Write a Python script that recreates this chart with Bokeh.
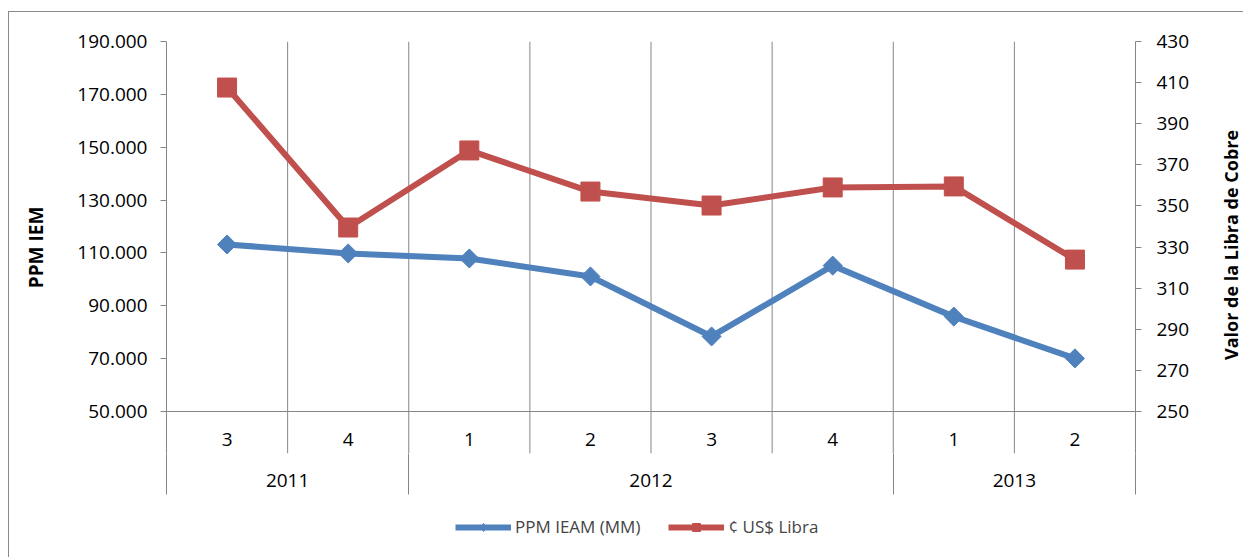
import math
from bokeh.plotting import figure
from bokeh.layouts import column, row
from bokeh.models import (Range1d, LinearAxis, FixedTicker, CustomJSTickFormatter,
                          ColumnDataSource, Legend, LegendItem)
from bokeh.core.properties import value
from bokeh.embed import file_html
from bokeh.resources import INLINE

# ---------------- data ----------------
years = ["2011", "2011", "2012", "2012", "2012", "2012", "2013", "2013"]
quarters = ["3", "4", "1", "2", "3", "4", "1", "2"]
ppm_iem = [113200, 109800, 107900, 101100, 78400, 105200, 85900, 70100]
libra_cobre = [407.6, 339.5, 377.0, 357.0, 350.2, 359.0, 359.5, 323.9]
left_ticks = [50000, 70000, 90000, 110000, 130000, 150000, 170000, 190000]
right_ticks = [250, 270, 290, 310, 330, 350, 370, 390, 410, 430]
series_names = ["PPM IEAM (MM)", "¢ US$ Libra"]
left_title = "PPM IEM"
right_title = "Valor de la Libra de Cobre"

# ---------------- layout constants ----------------
FONT = "Open Sans"
FS = "19px"
GRAY = "#868686"
BLUE = "#4F81BD"
RED = "#C0504D"
TOTAL_W = 1234
STRIP_W = 33                       # strip holding the right-hand title
W, H = TOTAL_W - STRIP_W, 488      # main chart
LEG_H = 57                         # legend strip below
MB_L, MB_R, MB_T, MB_B = 157, 75, 29, 47
AXIS_PX = 370.0                    # pixel height of the value axes
FRAME_H = H - MB_T - MB_B

y_lo, y_hi = left_ticks[0], left_ticks[-1]
r_lo, r_hi = right_ticks[0], right_ticks[-1]
upx = (y_hi - y_lo) / AXIS_PX
rpx = (r_hi - r_lo) / AXIS_PX
y_start = y_hi - FRAME_H * upx
r_start = r_hi - FRAME_H * rpx

n = len(quarters)
centers = [i + 0.5 for i in range(n)]

p = figure(width=W, height=H, output_backend="svg", toolbar_location=None,
           x_range=Range1d(0, n), y_range=Range1d(y_start, y_hi),
           min_border_left=MB_L, min_border_right=MB_R,
           min_border_top=MB_T, min_border_bottom=MB_B,
           background_fill_color="white", border_fill_color="white")
p.outline_line_color = None
p.xaxis.visible = False
p.yaxis.visible = False
p.xgrid.visible = False
p.ygrid.visible = False
p.extra_y_ranges = {"right": Range1d(r_start, r_hi)}

fmt = CustomJSTickFormatter(code=r"""
return Math.round(tick).toString().replace(/\B(?=(\d{3})+(?!\d))/g, '.');
""")

def style_axis(ax):
    ax.axis_line_color = GRAY
    ax.major_tick_line_color = GRAY
    ax.major_tick_out = 6
    ax.major_tick_in = 0
    ax.minor_tick_line_color = None
    ax.major_label_text_font = FONT
    ax.major_label_text_font_size = FS
    ax.major_label_text_color = "#000000"

lax = LinearAxis(bounds=(y_start, y_hi), ticker=FixedTicker(ticks=left_ticks), formatter=fmt,
                 axis_label=left_title)
style_axis(lax)
lax.major_label_standoff = 13
lax.axis_label_standoff = 25
lax.axis_label_text_font = FONT
lax.axis_label_text_font_size = "19px"
lax.axis_label_text_font_style = "bold"
lax.axis_label_text_color = "#000000"
p.add_layout(lax, "left")

rax = LinearAxis(y_range_name="right", bounds=(r_start, r_hi), ticker=FixedTicker(ticks=right_ticks))
style_axis(rax)
rax.major_label_standoff = 15
p.add_layout(rax, "right")

# ---------------- grid / category separators ----------------
groups = []
for i, yv in enumerate(years):
    if not groups or groups[-1][0] != yv:
        groups.append([yv, i, i + 1])
    else:
        groups[-1][2] = i + 1
year_centers = [(g[1] + g[2]) / 2 for g in groups]
year_bounds = sorted({g[1] for g in groups} | {g[2] for g in groups})

inner = list(range(1, n))
p.segment(x0=inner, y0=[y_hi] * len(inner), x1=inner, y1=[y_start] * len(inner),
          line_color=GRAY, line_width=1)
p.segment(x0=[0], y0=[y_lo], x1=[n], y1=[y_lo], line_color=GRAY, line_width=1)

# quarter labels
p.text(x=centers, y=[y_lo - 28 * upx] * n, text=quarters, text_font=value(FONT),
       text_font_size=FS, text_align="center", text_baseline="middle", text_color="black")

# year axis below: labels at group centres, separators as minor ticks at group bounds
yax = LinearAxis(ticker=FixedTicker(ticks=year_centers, minor_ticks=[float(b) for b in year_bounds]),
                 major_label_overrides={float(c): g[0] for c, g in zip(year_centers, groups)})
yax.axis_line_color = None
yax.major_tick_line_color = None
yax.major_tick_out = 0
yax.major_tick_in = 0
yax.minor_tick_line_color = GRAY
yax.minor_tick_out = 41
yax.minor_tick_in = 0
yax.major_label_standoff = -21
yax.major_label_text_font = FONT
yax.major_label_text_font_size = FS
yax.major_label_text_color = "#000000"
p.add_layout(yax, "below")

# ---------------- series ----------------
src = ColumnDataSource(dict(x=centers, ppm=ppm_iem, lib=libra_cobre))
p.line("x", "ppm", source=src, line_color=BLUE, line_width=6)
p.scatter("x", "ppm", source=src, marker="square", angle=math.pi / 4, size=13.5,
          fill_color=BLUE, line_color=BLUE)
p.line("x", "lib", source=src, y_range_name="right", line_color=RED, line_width=6)
p.scatter("x", "lib", source=src, y_range_name="right", marker="square", size=19,
          fill_color=RED, line_color=RED)

# ---------------- right-hand title strip ----------------
s = figure(width=STRIP_W, height=H, output_backend="svg", toolbar_location=None,
           x_range=Range1d(0, STRIP_W), y_range=Range1d(H, 0), min_border=0,
           background_fill_color="white", border_fill_color="white")
s.axis.visible = False
s.grid.visible = False
s.outline_line_color = None
s.text(x=[20.5], y=[241], text=[right_title], angle=math.pi / 2, text_font=value(FONT),
       text_font_size="18px", text_font_style="bold", text_align="center",
       text_baseline="middle", text_color="black")

# ---------------- legend strip ----------------
q = figure(width=TOTAL_W, height=LEG_H, output_backend="svg", toolbar_location=None,
           x_range=Range1d(0, 1), y_range=Range1d(0, 1), min_border=0,
           background_fill_color="white", border_fill_color="white")
q.axis.visible = False
q.grid.visible = False
q.outline_line_color = None
# the series again, outside the strip's visible range: only their legend keys show
kbl = q.line("x", "ppm", source=src, line_color=BLUE, line_width=6)
kbs = q.scatter("x", "ppm", source=src, marker="diamond", size=14, fill_color=BLUE, line_color=BLUE)
krl = q.line("x", "lib", source=src, line_color=RED, line_width=6)
krs = q.scatter("x", "lib", source=src, marker="square", size=14, fill_color=RED, line_color=RED)

legend = Legend(items=[LegendItem(label=series_names[0], renderers=[kbl, kbs]),
                       LegendItem(label=series_names[1], renderers=[krl, krs])],
                orientation="horizontal", location=(446, 19))
legend.label_text_font = FONT
legend.label_text_font_size = "17px"
legend.label_standoff = 4
legend.glyph_width = 56
legend.glyph_height = 20
legend.spacing = 28
legend.padding = 0
legend.margin = 0
legend.border_line_color = None
legend.background_fill_alpha = 0
q.add_layout(legend, "center")

layout = column(row(p, s, spacing=0), q, spacing=0,
                styles={"border-left": "1px solid #8a8a8a", "border-top": "1px solid #8a8a8a",
                        "margin-top": "11px", "margin-left": "8px"})

open("out.html", "w").write(file_html(layout, INLINE))
